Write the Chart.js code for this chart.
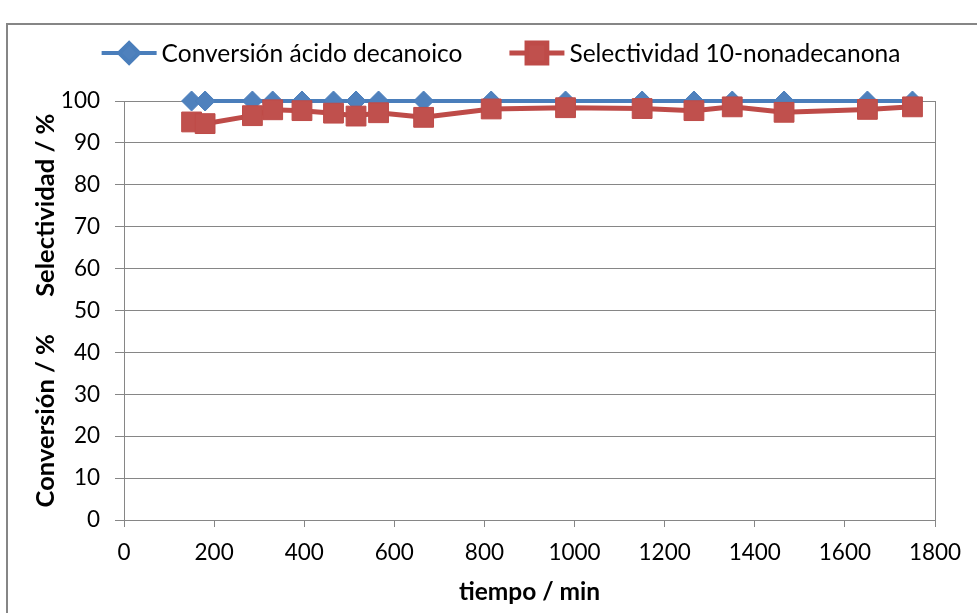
<!DOCTYPE html>
<html lang="es">
<head>
    <meta charset="UTF-8">
    <title>Conversión y selectividad</title>
    <script src="https://cdn.jsdelivr.net/npm/chart.js@4.4.1/dist/chart.umd.min.js"></script>
    <style>
        html, body { margin: 0; padding: 0; background: #fff; }
        #wrap { width: 977px; height: 613px; }
    </style>
</head>
<body>
    <div id="wrap"><canvas id="chart" width="977" height="613"></canvas></div>

    <script>
        // Data
        const tiempo = [150, 180, 285, 330, 395, 465, 515, 565, 665, 815, 980, 1150, 1265, 1350, 1465, 1650, 1750];
        const conversion = [100, 100, 100, 100, 100, 100, 100, 100, 100, 100, 100, 100, 100, 100, 100, 100, 100];
        const selectividad = [95.0, 94.6, 96.5, 97.9, 97.7, 97.1, 96.4, 97.2, 96.1, 98.1, 98.4, 98.2, 97.7, 98.6, 97.3, 98.0, 98.6];
        const xTicks = [0, 200, 400, 600, 800, 1000, 1200, 1400, 1600, 1800];
        const yTicks = [0, 10, 20, 30, 40, 50, 60, 70, 80, 90, 100];

        const FONT = 'Lato';
        const GRID = '#868686';

        // outer frame + right edge of the plot area
        const framePlugin = {
            id: 'frame',
            beforeDraw(chart) {
                const ctx = chart.ctx;
                ctx.save();
                ctx.strokeStyle = GRID;
                ctx.lineWidth = 2;
                ctx.strokeRect(7, 24, 1000, 700);
                ctx.restore();
            },
            beforeDatasetsDraw(chart) {
                const {ctx, chartArea} = chart;
                ctx.save();
                ctx.strokeStyle = GRID;
                ctx.lineWidth = 1;
                ctx.beginPath();
                ctx.moveTo(Math.round(chartArea.right) + 0.5, chartArea.top);
                ctx.lineTo(Math.round(chartArea.right) + 0.5, chartArea.bottom);
                ctx.stroke();
                ctx.restore();
            }
        };

        // legend drawn like the spreadsheet one: line + marker + text
        const legendPlugin = {
            id: 'lineLegend',
            afterDraw(chart) {
                const ctx = chart.ctx;
                const lineLen = 55, gap = 5, between = 47, cy = 53;
                ctx.save();
                ctx.font = '24.5px ' + FONT;
                ctx.textBaseline = 'middle';
                const items = chart.data.datasets.map(ds => ({ ds, w: ctx.measureText(ds.label).width }));
                const total = items.reduce((s, it) => s + lineLen + gap + it.w, 0) + between * (items.length - 1);
                let x = 501 - total / 2;
                items.forEach(it => {
                    const ds = it.ds;
                    ctx.strokeStyle = ds.borderColor;
                    ctx.lineWidth = ds.borderWidth;
                    ctx.beginPath();
                    ctx.moveTo(x, cy);
                    ctx.lineTo(x + lineLen, cy);
                    ctx.stroke();
                    ctx.fillStyle = ds.pointBackgroundColor;
                    ctx.strokeStyle = ds.pointBorderColor;
                    Chart.helpers.drawPoint(ctx, {
                        pointStyle: ds.pointStyle,
                        radius: ds.pointRadius,
                        borderWidth: ds.pointBorderWidth,
                        rotation: 0
                    }, x + lineLen / 2, cy);
                    ctx.fillStyle = '#000';
                    ctx.fillText(ds.label, x + lineLen + gap, cy + 1);
                    x += lineLen + gap + it.w + between;
                });
                ctx.restore();
            }
        };

        const ctx = document.getElementById('chart').getContext('2d');
        const chart = new Chart(ctx, {
            type: 'line',
            data: {
                datasets: [{
                    label: 'Conversión ácido decanoico',
                    data: tiempo.map((t, i) => ({ x: t, y: conversion[i] })),
                    borderColor: '#4A7EBB',
                    borderWidth: 4,
                    pointStyle: 'rectRot',
                    pointRadius: 10,
                    pointBackgroundColor: '#4F81BD',
                    pointBorderColor: '#4A7EBB',
                    pointBorderWidth: 1,
                    tension: 0,
                    clip: false,
                    order: 2
                }, {
                    label: 'Selectividad 10-nonadecanona',
                    data: tiempo.map((t, i) => ({ x: t, y: selectividad[i] })),
                    borderColor: '#BE4B48',
                    borderWidth: 5,
                    pointStyle: 'rect',
                    pointRadius: 14,
                    pointBackgroundColor: '#C0504D',
                    pointBorderColor: '#BE4B48',
                    pointBorderWidth: 1,
                    tension: 0,
                    clip: false,
                    order: 1
                }]
            },
            options: {
                responsive: false,
                animation: false,
                devicePixelRatio: 1,
                layout: { padding: { top: 101, right: 42, bottom: 0, left: 0 } },
                plugins: {
                    legend: { display: false },
                    tooltip: { enabled: false }
                },
                scales: {
                    x: {
                        type: 'linear',
                        min: 0,
                        max: 1800,
                        afterBuildTicks: s => { s.ticks = xTicks.map(v => ({ value: v })); },
                        afterFit: s => { s.height = 93; },
                        grid: { drawOnChartArea: false, drawTicks: true, tickLength: 7, color: GRID },
                        border: { display: true, color: GRID, width: 1 },
                        ticks: {
                            color: '#000', padding: 12, maxRotation: 0,
                            font: { family: FONT, size: 22.5 },
                            callback: v => String(v)
                        },
                        title: {
                            display: true,
                            text: 'tiempo / min',
                            color: '#000',
                            padding: { top: 0, bottom: 6 },
                            font: { family: FONT, size: 24.5, weight: 'bold' }
                        }
                    },
                    y: {
                        min: 0,
                        max: 100,
                        afterBuildTicks: s => { s.ticks = yTicks.map(v => ({ value: v })); },
                        afterFit: s => { s.width = 124; },
                        grid: { color: GRID, drawTicks: true, tickLength: 9, tickColor: GRID },
                        border: { display: true, color: GRID, width: 1 },
                        ticks: { color: '#000', padding: 15, font: { family: FONT, size: 22.5 } },
                        title: {
                            display: true,
                            text: 'Conversión / %      Selectividad / %',
                            color: '#000',
                            padding: { top: 30, bottom: 0 },
                            font: { family: FONT, size: 25.5, weight: 'bold' }
                        }
                    }
                }
            },
            plugins: [framePlugin, legendPlugin]
        });
    </script>
</body>
</html>
